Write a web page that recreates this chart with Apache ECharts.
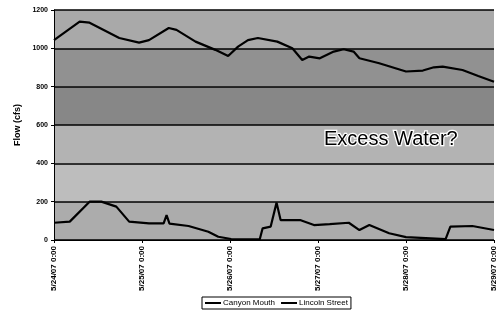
<!DOCTYPE html>
<html>
<head>
<meta charset="utf-8">
<script src="https://cdn.jsdelivr.net/npm/echarts@6/dist/echarts.min.js"></script>
<style>
  html, body { margin: 0; padding: 0; background: #fff; }
  #chart { width: 498px; height: 312px; }
</style>
</head>
<body>
<div id="chart"></div>
<script>
// hours since 5/24/07 0:00
const canyonHours = [0, 7.0, 9.7, 17.8, 23.2, 25.9, 31.3, 33.4, 38.6, 44.0, 47.5, 50.2, 52.9, 55.6, 60.9, 65.0, 67.7, 69.6, 72.5, 76.3, 79.0, 81.7, 83.3, 88.7, 96.0, 100.6, 103.6, 106.0, 111.4, 115.7, 120]
const canyonFlow = [1043, 1139, 1134, 1054, 1030, 1043, 1106, 1096, 1035, 992, 960, 1009, 1043, 1054, 1035, 1000, 939, 957, 948, 983, 995, 983, 948, 922, 879, 884, 901, 905, 887, 856, 826]

const lincolnHours = [0, 4.3, 9.7, 12.9, 17.0, 20.5, 25.9, 29.9, 30.7, 31.5, 36.7, 42.1, 44.8, 48.3, 56.1, 56.9, 59.1, 60.7, 61.8, 67.1, 70.9, 75.2, 80.4, 83.3, 86.0, 91.4, 96.0, 106.8, 108.1, 114.1, 120]
const lincolnFlow = [90, 96, 200, 200, 174, 96, 87, 87, 130, 85, 73, 43, 17, 5, 3, 61, 70, 195, 104, 104, 78, 83, 90, 52, 78, 35, 15, 5, 70, 73, 52]

const yTicks = [0, 200, 400, 600, 800, 1000, 1200]
const bandColors = ['#acacac', '#bdbdbd', '#b3b3b3', '#878787', '#919191', '#a9a9a9']

function zip(xs, ys) {
  return xs.map((x, i) => [x, ys[i]])
}

const chart = echarts.init(document.getElementById('chart'))
chart.setOption({
  animation: false,
  textStyle: { fontFamily: 'Liberation Sans' },
  grid: { left: 54, right: 0, top: 10, bottom: 72 },
  legend: {
    bottom: 3,
    left: 202,
    itemWidth: 16,
    itemHeight: 2,
    itemGap: 6,
    padding: [2, 3],
    borderColor: '#000',
    borderWidth: 1,
    icon: 'rect',
    textStyle: { fontSize: 8, color: '#000', padding: [0, 0, 0, -3] },
    data: ['Canyon Mouth', 'Lincoln Street']
  },
  xAxis: {
    type: 'value',
    min: 0,
    max: 120,
    interval: 24,
    axisLine: { lineStyle: { color: '#000', width: 1 } },
    axisTick: { show: true, length: 3, lineStyle: { color: '#000' } },
    splitLine: { show: false },
    axisLabel: {
      rotate: 90,
      fontSize: 8,
      color: '#000',
      fontWeight: 'bold',
      margin: 6,
      formatter: v => '5/' + (24 + v / 24) + '/07 0:00'
    }
  },
  yAxis: {
    type: 'value',
    min: yTicks[0],
    max: yTicks[yTicks.length - 1],
    interval: 200,
    name: 'Flow (cfs)',
    nameLocation: 'middle',
    nameGap: 30,
    nameTextStyle: { fontSize: 9, fontWeight: 'bold', color: '#000' },
    axisLine: { show: true, lineStyle: { color: '#000', width: 1 } },
    axisTick: { show: true, length: 3, lineStyle: { color: '#000' } },
    axisLabel: { fontSize: 7, color: '#000', fontWeight: 'bold', margin: 6, formatter: v => String(v) },
    splitLine: { show: true, lineStyle: { color: '#000', width: 1.5 } },
    splitArea: { show: true, areaStyle: { color: bandColors } }
  },
  graphic: {
    elements: [{
      type: 'text',
      x: 324,
      y: 129,
      z: 100,
      style: {
        text: 'Excess Water?',
        font: '20px "Liberation Sans"',
        fill: '#000000',
        stroke: '#ffffff',
        lineWidth: 2.5
      }
    }]
  },
  series: [
    {
      name: 'Canyon Mouth',
      type: 'line',
      data: zip(canyonHours, canyonFlow),
      symbol: 'none',
      itemStyle: { color: '#000' },
      lineStyle: { color: '#000', width: 2.2 }
    },
    {
      name: 'Lincoln Street',
      type: 'line',
      data: zip(lincolnHours, lincolnFlow),
      symbol: 'none',
      itemStyle: { color: '#000' },
      lineStyle: { color: '#000', width: 2.2 }
    }
  ]
})
</script>
</body>
</html>
